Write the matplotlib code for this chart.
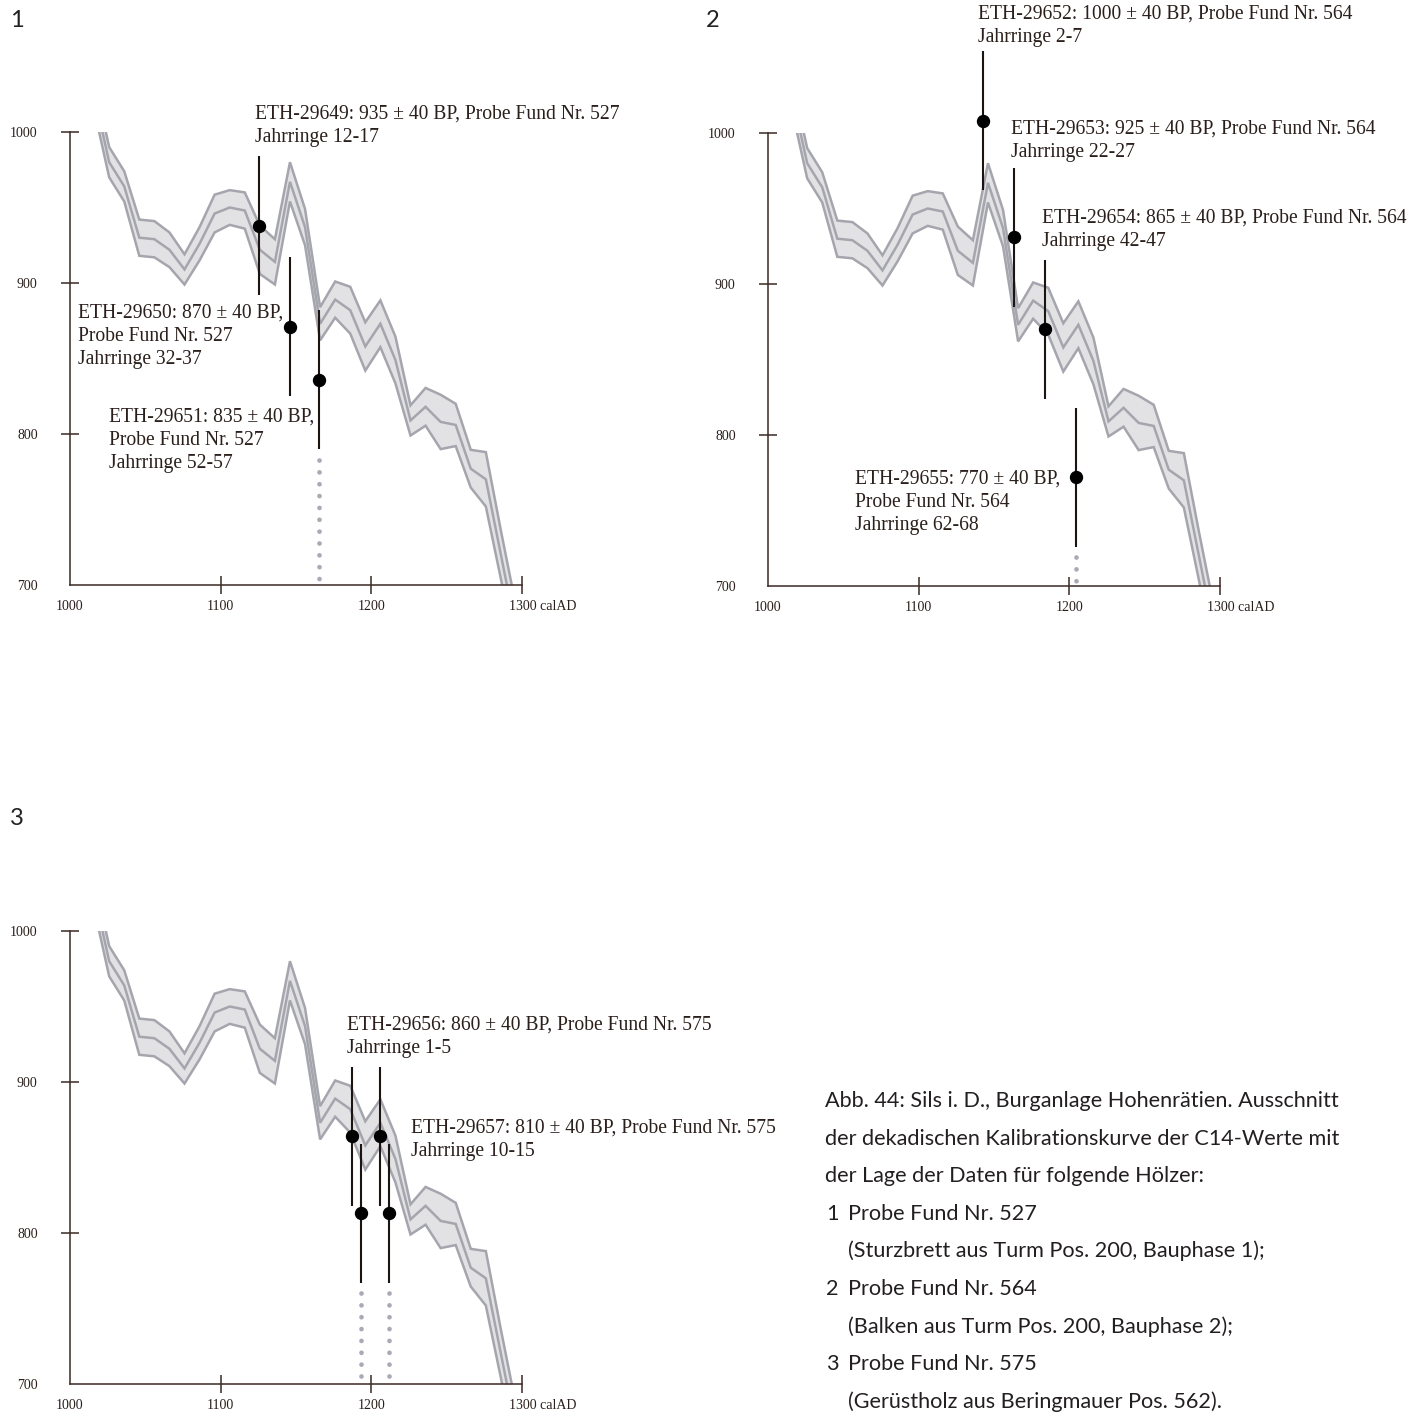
import matplotlib
matplotlib.use("Agg")
import matplotlib.pyplot as plt
import numpy as np

W, H, DPI = 1428, 1416, 100

# ---------------- data ----------------
cal_years = [1016, 1026, 1036, 1046, 1056, 1066, 1076, 1086, 1096, 1106,
             1116, 1126, 1136, 1146, 1156, 1166, 1176, 1186, 1196, 1206,
             1216, 1226, 1236, 1246, 1256, 1266, 1276, 1286, 1296]
cal_bp = [1025, 980, 964, 930, 929, 922, 909, 926, 946, 950,
          948, 922, 914, 967, 937, 873, 889, 882, 858, 873,
          849, 809, 818, 808, 806, 777, 770, 720, 670]
cal_sigma = [10, 10, 10, 12, 12, 11.5, 10, 11, 12.5, 11.5,
             12, 16, 15, 13, 12, 11, 12, 15.5, 16, 15.5,
             15.5, 10, 12.5, 18, 14, 12.5, 18, 16, 16]

bar_half = 46  # drawn half length of the sample bars (BP)

p1_years = [1125.5, 1146, 1165.5]
p1_bp = [938, 871, 836]
p1_dotted = [False, False, True]

p2_years = [1142.5, 1163, 1184, 1204.5]
p2_bp = [1008, 931, 870, 772]
p2_dotted = [False, False, False, True]

p3_years = [1187, 1206, 1193, 1212]
p3_bp = [864, 864, 813, 813]
p3_dotted = [False, False, True, True]

x_ticks = [1000, 1100, 1200, 1300]
x_ticklabels = ["1000", "1100", "1200", ""]
x_unit_label = "1300 calAD"
y_ticks = [700, 800, 900, 1000]
y_ticklabels = ["700", "800", "900", "1000"]

p1_text = [["ETH-29649: 935 ± 40 BP, Probe Fund Nr. 527", "Jahrringe 12-17"],
           ["ETH-29650: 870 ± 40 BP,", "Probe Fund Nr. 527", "Jahrringe 32-37"],
           ["ETH-29651: 835 ± 40 BP,", "Probe Fund Nr. 527", "Jahrringe 52-57"]]
p2_text = [["ETH-29652: 1000 ± 40 BP, Probe Fund Nr. 564", "Jahrringe 2-7"],
           ["ETH-29653: 925 ± 40 BP, Probe Fund Nr. 564", "Jahrringe 22-27"],
           ["ETH-29654: 865 ± 40 BP, Probe Fund Nr. 564", "Jahrringe 42-47"],
           ["ETH-29655: 770 ± 40 BP,", "Probe Fund Nr. 564", "Jahrringe 62-68"]]
p3_text = [["ETH-29656: 860 ± 40 BP, Probe Fund Nr. 575", "Jahrringe 1-5"],
           ["ETH-29657: 810 ± 40 BP, Probe Fund Nr. 575", "Jahrringe 10-15"]]

panel_numbers = ["1", "2", "3"]

caption_lines = ["Abb. 44: Sils i. D., Burganlage Hohenrätien. Ausschnitt",
                 "der dekadischen Kalibrationskurve der C14-Werte mit",
                 "der Lage der Daten für folgende Hölzer:"]
caption_items = [("1", "Probe Fund Nr. 527", "(Sturzbrett aus Turm Pos. 200, Bauphase 1);"),
                 ("2", "Probe Fund Nr. 564", "(Balken aus Turm Pos. 200, Bauphase 2);"),
                 ("3", "Probe Fund Nr. 575", "(Gerüstholz aus Beringmauer Pos. 562).")]

# ---------------- styles ----------------
SERIF = ["Liberation Serif", "DejaVu Serif"]
SANS = ["Lato", "Open Sans", "DejaVu Sans"]
TXT = "#2a1f1b"
AXC = "#3a2a25"
BAND_FILL = "#e2e2e4"
BAND_LINE = "#a5a5ae"
DOT_GRAY = "#a9a9b8"

fig = plt.figure(figsize=(W / DPI, H / DPI), dpi=DPI)
fig.patch.set_facecolor("white")


def fx(x):
    return x / W


def fy(y):
    return 1 - y / H


def make_axes(left, right, top, bottom):
    ax = fig.add_axes([fx(left), fy(bottom), (right - left) / W, (bottom - top) / H])
    ax.set_xlim(1000, 1300)
    ax.set_ylim(700, 1000)
    ax.patch.set_alpha(0)
    for s in ["top", "right"]:
        ax.spines[s].set_visible(False)
    for s in ["left", "bottom"]:
        ax.spines[s].set_color(AXC)
        ax.spines[s].set_linewidth(1.1)
    ax.set_xticks(x_ticks)
    ax.set_xticklabels(x_ticklabels, fontfamily=SERIF, fontsize=10, color=TXT)
    ax.set_yticks(y_ticks)
    ax.set_yticklabels(y_ticklabels, fontfamily=SERIF, fontsize=10, color=TXT)
    ax.tick_params(axis="both", direction="inout", length=12.5, width=1.1, color=AXC)
    ax.tick_params(axis="x", pad=4.5)
    ax.tick_params(axis="y", pad=17)
    ax.xaxis.get_major_ticks()[0].tick1line.set_visible(False)
    ax.yaxis.get_major_ticks()[0].tick1line.set_visible(False)
    ax.annotate(x_unit_label, xy=(1300, 0), xycoords=("data", "axes fraction"),
                xytext=(-13, -15), textcoords="offset pixels", ha="left", va="top",
                fontfamily=SERIF, fontsize=10, color=TXT, annotation_clip=False)
    # calibration band
    yrs = np.array(cal_years, float)
    mid = np.array(cal_bp, float)
    sig = np.array(cal_sigma, float)
    ax.fill_between(yrs, mid - sig, mid + sig, color=BAND_FILL, lw=0, zorder=1)
    for arr in (mid - sig, mid, mid + sig):
        ax.plot(yrs, arr, color=BAND_LINE, lw=1.8, zorder=2, solid_joinstyle="miter")
    return ax


def draw_samples(ax, years, bps, dotted):
    for x, y, d in zip(years, bps, dotted):
        ax.plot([x, x], [y - bar_half, y + bar_half], color="#1c1410", lw=1.5,
                clip_on=False, zorder=5, solid_capstyle="butt")
        ax.plot([x], [y], "o", color="black", ms=8.6, clip_on=False, zorder=6)
        if d:
            ax.plot([x, x], [y - bar_half - 7, 701.5], color=DOT_GRAY, lw=3.4,
                    linestyle=(0, (0.01, 2.5)), dash_capstyle="round",
                    clip_on=False, zorder=4)


ax1 = make_axes(70, 522, 132, 585)
draw_samples(ax1, p1_years, p1_bp, p1_dotted)
ax2 = make_axes(768, 1220, 133, 586)
draw_samples(ax2, p2_years, p2_bp, p2_dotted)
ax3 = make_axes(70, 522, 931, 1384)
draw_samples(ax3, p3_years, p3_bp, p3_dotted)

# ---------------- annotation texts ----------------
ann_fs = 13.5
positions = [
    (p1_text, [(255, 119), (78, 318), (109, 422)]),
    (p2_text, [(978, 19), (1011, 134), (1042, 223), (855, 484)]),
    (p3_text, [(347, 1030), (411, 1133)]),
]
ann_objs = []
for texts, poss in positions:
    for lines, (x0, y0) in zip(texts, poss):
        for i, line in enumerate(lines):
            t = fig.text(fx(x0), fy(y0 + 23 * i), line, fontfamily=SERIF,
                         fontsize=ann_fs, color=TXT, ha="left", va="baseline")
            ann_objs.append(t)

# panel numbers
num_pos = [(10, 27), (706, 27), (10, 825)]
for s, (x0, y0) in zip(panel_numbers, num_pos):
    fig.text(fx(x0), fy(y0), s, fontfamily=SANS, fontsize=17, color="#222",
             ha="left", va="baseline")

# caption
cap_fs = 13.5
cap_objs = []
cap_y = [1107, 1145, 1182]
for line, y0 in zip(caption_lines, cap_y):
    cap_objs.append(fig.text(fx(825), fy(y0), line, fontfamily=SANS, fontsize=cap_fs,
                             color="#231f20", ha="left", va="baseline"))
item_y = [(1220, 1257), (1295, 1333), (1370, 1408)]
for (num, head, sub), (ya, yb) in zip(caption_items, item_y):
    cap_objs.append(fig.text(fx(826), fy(ya), num, fontfamily=SANS, fontsize=cap_fs,
                             color="#231f20", ha="left", va="baseline"))
    cap_objs.append(fig.text(fx(848), fy(ya), head, fontfamily=SANS, fontsize=cap_fs,
                             color="#231f20", ha="left", va="baseline"))
    cap_objs.append(fig.text(fx(848), fy(yb), sub, fontfamily=SANS, fontsize=cap_fs,
                             color="#231f20", ha="left", va="baseline"))

# scale fonts to match measured widths of reference lines
fig.canvas.draw()
r = fig.canvas.get_renderer()
w_ann = ann_objs[0].get_window_extent(r).width
k_ann = 367.0 / w_ann
for t in ann_objs:
    t.set_fontsize(ann_fs * k_ann)
w_cap = cap_objs[0].get_window_extent(r).width
k_cap = 513.0 / w_cap
for t in cap_objs:
    t.set_fontsize(cap_fs * k_cap)

fig.savefig("out.png", dpi=DPI, facecolor="white")
